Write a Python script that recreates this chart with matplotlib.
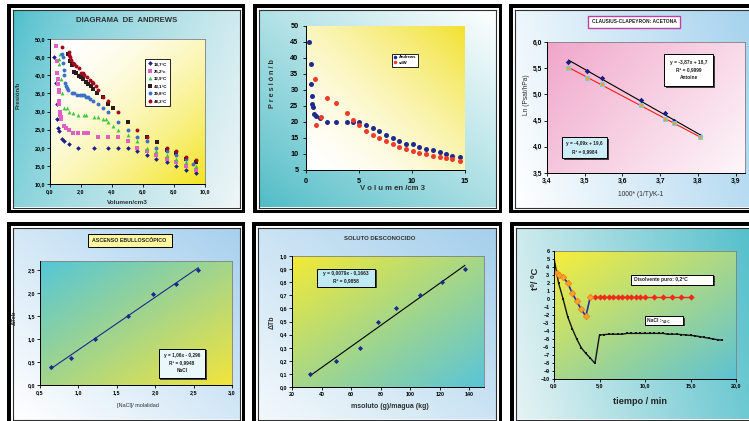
import numpy as np
import matplotlib
matplotlib.use("Agg")
import matplotlib.pyplot as plt
from matplotlib.patches import Rectangle
from matplotlib.colors import to_rgb
from matplotlib.ticker import FuncFormatter

plt.rcParams['font.family'] = ['Liberation Sans', 'DejaVu Sans']
plt.rcParams['font.weight'] = 'bold'

W, H = 749, 421

# ---- panel 1: Andrews isotherms (V/cm3, P/b)
v187 = [0.26, 0.37, 0.43, 0.47, 0.54, 0.58, 0.75, 0.92, 1.23, 1.83, 2.82, 3.76, 4.37, 5.0, 5.6, 6.26, 6.86, 7.53, 8.15, 8.8, 9.44]
p187 = [45, 38, 32, 28, 25.5, 24.5, 22.5, 22, 21, 20, 20, 20, 20, 20, 19, 18, 17, 16, 15, 14, 13]
v252 = [0.39, 0.43, 0.47, 0.54, 0.54, 0.56, 0.58, 0.6, 0.6, 0.64, 0.67, 0.71, 0.73, 0.92, 1.05, 1.23, 1.51, 1.83, 2.17, 2.47, 3.08, 3.76, 4.37, 5.0, 5.6, 6.26, 6.86, 7.53, 8.15, 8.8, 9.44]
p252 = [48, 44, 40.5, 39, 37.5, 36, 35.5, 33, 32, 30, 29, 28.5, 28, 26, 25.5, 25, 24, 24, 24, 24, 23, 23, 23, 22, 20, 19, 18, 17, 16, 15, 14]
v329 = [0.64, 0.6, 0.58, 0.69, 0.75, 0.92, 1.08, 1.23, 1.51, 1.83, 2.17, 2.32, 2.82, 3.12, 3.44, 3.61, 3.76, 4.07, 4.37, 5.0, 5.6, 6.26, 6.86, 7.53, 8.15, 8.8, 9.44]
p329 = [46, 44.5, 43, 39, 35, 31, 31, 30, 29.5, 29, 29, 29, 28.5, 28.5, 28, 28, 27, 26, 25, 23.5, 22, 20, 19, 18, 17, 16, 15]
v431 = [1.15, 1.29, 1.42, 1.55, 1.7, 1.85, 2.0, 2.15, 2.32, 2.47, 2.63, 2.8, 3.0, 3.44, 3.76, 4.07, 5.0, 6.26, 6.88, 7.53, 8.13, 8.77, 9.4]
p431 = [46, 44, 42.8, 41, 40.5, 39.8, 39.6, 38.9, 38.2, 37.7, 36.9, 36.3, 35, 34, 32, 31, 27, 23, 21.5, 19.5, 18.5, 17, 16]
v398 = [0.8, 0.86, 0.82, 0.88, 0.92, 0.97, 1.01, 1.08, 1.18, 1.4, 1.55, 1.76, 1.93, 2.04, 2.17, 2.32, 2.47, 2.58, 2.8, 3.08, 3.44, 3.76, 4.37, 5.0, 5.6, 6.26, 6.86, 7.53, 8.15, 8.8, 9.25]
p398 = [46, 45, 43.5, 41.5, 40, 38, 37, 36.5, 36, 35, 35, 34.5, 34.5, 34.5, 34.5, 34, 34, 33.5, 33, 32, 31, 30, 27, 25, 23, 22, 20, 19, 18, 17, 15.5]
v482 = [0.8, 1.2, 1.23, 1.3, 1.37, 1.47, 1.57, 1.7, 1.85, 1.98, 2.1, 2.22, 2.41, 2.58, 2.7, 2.8, 2.97, 3.12, 3.44, 3.76, 4.37, 5.63, 6.26, 7.53, 8.13, 8.77, 9.4]
p482 = [47.7, 46.5, 45.6, 45, 44.2, 43.5, 43.1, 42.6, 42, 40.7, 40.5, 40.2, 39.6, 38.7, 38.2, 37.8, 36.9, 35.9, 34.1, 33, 30, 25, 23, 20, 19, 17.5, 16.5]

# ---- panel 2: Andrews vs van der Waals
v_and = [0.3, 0.44, 0.44, 0.53, 0.6, 0.69, 0.79, 0.94, 1.32, 1.95, 2.83, 3.84, 4.47, 5.03, 5.66, 6.29, 6.9, 7.55, 8.2, 8.8, 9.4, 10.05, 10.7, 11.3, 11.95, 12.6, 13.2, 13.8, 14.5]
p_and = [45, 38, 32, 28, 25.5, 24.6, 22.5, 21.9, 21.2, 20, 20, 20, 20, 20, 19.1, 18.1, 17.1, 16, 15, 14, 13, 13, 12.1, 11.6, 11.1, 10.5, 10, 9.5, 9.2]
v_vdw = [0.88, 0.94, 1.38, 1.95, 2.83, 3.87, 4.46, 5.03, 5.66, 6.29, 6.9, 7.55, 8.2, 8.8, 9.4, 10.05, 10.7, 11.3, 11.95, 12.6, 13.2, 13.8, 14.5]
p_vdw = [33.3, 19.2, 21.6, 27.4, 26, 22.7, 20.7, 19.1, 17.3, 16.0, 15.0, 14.0, 13.0, 12.3, 11.6, 11.0, 10.4, 9.9, 9.5, 9.1, 8.8, 8.4, 7.9]

# ---- panel 3: Clausius-Clapeyron, acetone
invT = [3.457, 3.507, 3.545, 3.648, 3.713, 3.738, 3.806]
lnp_ant = [5.62, 5.45, 5.32, 4.90, 4.64, 4.49, 4.20]
lnp_exp = [5.51, 5.32, 5.19, 4.79, 4.54, 4.45, 4.18]

# ---- panel 4: ebullioscopy NaCl
m_nacl = [0.64, 0.90, 1.21, 1.65, 1.97, 2.27, 2.56]
dT_nacl = [0.39, 0.58, 1.0, 1.5, 1.99, 2.21, 2.5]

# ---- panel 5: unknown solute
m_sol = [32.3, 50, 65.8, 78.5, 90.5, 107, 121.6, 137]
dT_sol = [0.1, 0.2, 0.3, 0.5, 0.6, 0.7, 0.8, 0.9]

# ---- panel 6: cooling curves
t_nacl = [0, 0.5, 1, 1.5, 2, 2.5, 3, 3.5, 4, 4.5, 5, 5.5, 6, 6.5, 7, 7.5, 8, 8.5, 9, 9.5, 10, 10.5, 11,
          11.5, 12, 12.5, 13, 13.5, 14, 14.5, 15, 15.5, 16, 16.5, 17, 17.5, 18, 18.5]
T_nacl = [5.1, 2.0, 0.0, -2.2, -3.7, -5.0, -6.1, -6.8, -7.4, -8.05, -4.5, -4.45, -4.4, -4.4, -4.4, -4.4, -4.3, -4.3,
          -4.3, -4.3, -4.3, -4.3, -4.3, -4.3, -4.3, -4.4, -4.4, -4.4, -4.45, -4.5, -4.55, -4.6, -4.7, -4.8, -4.9, -5.0, -5.1, -5.15]
t_cool = [0.3, 0.6, 1.0, 1.5, 2.0, 2.5, 3.0, 3.5]
T_cool = [3.2, 3.0, 2.75, 2.0, 0.75, -0.3, -1.3, -2.15]
t_plat = [4, 4.5, 5, 5.5, 6, 6.5, 7, 7.5, 8, 8.5, 9, 9.5, 10, 11, 12, 13, 14, 15]
T_plat = [0.3] * 18

fig = plt.figure(figsize=(7.49, 4.21), dpi=100)


def rect(x0, y0, x1, y1):
    return [x0 / W, 1 - y1 / H, (x1 - x0) / W, (y1 - y0) / H]


def fill_grad(ax, c0, c1, dx, dy, gamma=1.0):
    u, v = np.meshgrid(np.linspace(0, 1, 80), np.linspace(0, 1, 80))
    t = u * dx + v * dy
    t = ((t - t.min()) / (t.max() - t.min())) ** gamma
    a, b = np.array(to_rgb(c0)), np.array(to_rgb(c1))
    ax.imshow(a + (b - a) * t[..., None], extent=[0, 1, 0, 1], origin='lower',
              aspect='auto', interpolation='bilinear')
    ax.set_xlim(0, 1)
    ax.set_ylim(0, 1)
    ax.set_xticks([])
    ax.set_yticks([])


canvas = fig.add_axes([0, 0, 1, 1], zorder=0)
canvas.set_xlim(0, W)
canvas.set_ylim(H, 0)
canvas.axis('off')

over = fig.add_axes([0, 0, 1, 1], zorder=20)
over.set_xlim(0, W)
over.set_ylim(H, 0)
over.axis('off')
over.patch.set_alpha(0)


def panel(x0, y0, x1, y1, c0, c1, dx, dy, gamma=1.0):
    canvas.add_patch(Rectangle((x0, y0), x1 - x0, y1 - y0, fc='black', ec='none'))
    canvas.add_patch(Rectangle((x0 + 3.5, y0 + 3.5), x1 - x0 - 7, y1 - y0 - 7, fc='white', ec='none'))
    g = fig.add_axes(rect(x0 + 5.5, y0 + 5.5, x1 - 5.5, y1 - 5.5), zorder=1)
    fill_grad(g, c0, c1, dx, dy, gamma)
    for s in g.spines.values():
        s.set_color('#303030')
        s.set_linewidth(0.8)


def plot_area(x0, y0, x1, y1, c0, c1, dx, dy, gamma=1.0, frame=True):
    g = fig.add_axes(rect(x0, y0, x1, y1), zorder=2)
    fill_grad(g, c0, c1, dx, dy, gamma)
    for s in g.spines.values():
        s.set_visible(frame)
        s.set_color('#808080')
        s.set_linewidth(0.6)
    ax = fig.add_axes(rect(x0, y0, x1, y1), zorder=3)
    ax.patch.set_alpha(0)
    for s in ax.spines.values():
        s.set_visible(False)
    ax.spines['left'].set_visible(True)
    ax.spines['bottom'].set_visible(True)
    ax.spines['left'].set_linewidth(0.7)
    ax.spines['bottom'].set_linewidth(0.7)
    ax.tick_params(length=2, width=0.6, pad=1.5)
    return ax


def comma(fmt):
    return FuncFormatter(lambda v, p: (fmt % v).replace('.', ','))


def tbox(x0, y0, x1, y1, fc='white', shadow=True):
    if shadow:
        over.add_patch(Rectangle((x0 + 1.5, y0 + 1.5), x1 - x0, y1 - y0, fc='#404040', ec='none'))
    over.add_patch(Rectangle((x0, y0), x1 - x0, y1 - y0, fc=fc, ec='black', lw=0.7))


# frames
panel(7, 4, 245, 213, '#48bdca', '#eef5f7', 1, -0.35, 0.7)
panel(253, 4, 502, 213, '#4fbcc6', '#ffffff', 1, 1.1, 0.9)
panel(509, 4, 760, 213, '#ffffff', '#a4d2ee', 1, 0.25)
panel(7, 222, 245, 425, '#ffffff', '#a7d0ee', 1, 1)
panel(252, 222, 502, 425, '#f2f8fb', '#a4cfec', 1, 1)
panel(510, 222, 760, 425, '#e6f3f4', '#52bfca', 1, 0.2)

# ---- panel 1
ax1 = plot_area(50, 39, 205, 184, '#ffffff', '#f3e420', 1, -1, 1.8)
ms = 2.8
ax1.plot(v187, p187, 'D', color='#1f1f8a', ms=ms - 0.4, mew=0, label='18,7°C')
ax1.plot(v252, p252, 's', color='#e060c0', ms=ms - 0.4, mew=0, label='25,2°c')
ax1.plot(v329, p329, '^', color='#3ec83e', ms=ms, mew=0, label='32,9°C')
ax1.plot(v431, p431, 's', color='#2e1a1a', ms=ms - 0.4, mew=0, label='43,1°C')
ax1.plot(v398, p398, 'o', color='#3c70c8', ms=ms, mew=0, label='39,8°C')
ax1.plot(v482, p482, 'o', color='#a00a1e', ms=ms, mew=0, label='48,2°C')
ax1.set_xlim(0, 10)
ax1.set_ylim(10, 50)
ax1.set_xticks(np.arange(0, 11, 2))
ax1.set_yticks(np.arange(10, 51, 5))
ax1.xaxis.set_major_formatter(comma('%.1f'))
ax1.yaxis.set_major_formatter(comma('%.1f'))
ax1.tick_params(labelsize=3.9)
lg = ax1.legend(loc='upper left', bbox_to_anchor=(143 / W, 1 - 57 / H), bbox_transform=fig.transFigure,
                fontsize=3.2, frameon=True, fancybox=False, edgecolor='black', framealpha=1,
                labelspacing=0.75, handlelength=0.8, handletextpad=0.5, borderpad=0.6, markerscale=1.0)
lg.get_frame().set_linewidth(0.6)
over.text(127, 20.5, 'DIAGRAMA  DE  ANDREWS', ha='center', va='center', fontsize=5.6, color='#303030')
over.text(18, 95, 'Presión/b', rotation=90, ha='center', va='center', fontsize=4.3, color='#303030')
over.text(127, 203, 'Volumen/cm3', ha='center', va='center', fontsize=4.6, color='#303030')

# ---- panel 2
ax2 = plot_area(306, 26, 465, 170, '#ffffff', '#f2e232', 1, 1, 1.6, frame=False)
ax2.plot(v_and, p_and, 'o', color='#1f2a8c', ms=3.6, mew=0, label='Andrews')
ax2.plot(v_vdw, p_vdw, 'o', color='#f03a2a', ms=3.6, mew=0, label='vdW')
ax2.set_xlim(0, 15)
ax2.set_ylim(5, 50)
ax2.set_xticks([0, 5, 10, 15])
ax2.set_yticks(np.arange(5, 51, 5))
ax2.tick_params(labelsize=5.2, pad=3, length=2.5)
lg2 = ax2.legend(loc='upper left', bbox_to_anchor=(390 / W, 1 - 51.5 / H), bbox_transform=fig.transFigure,
                 fontsize=3.0, frameon=True, fancybox=False, edgecolor='black', framealpha=1,
                 labelspacing=0.4, handlelength=0.6, handletextpad=0.6, borderpad=0.4, markerscale=0.7)
lg2.get_frame().set_linewidth(0.6)
over.text(273, 84, 'P r e s i ó n / b', rotation=90, ha='center', va='center', fontsize=5.2, color='#303030')
over.text(393, 188, 'V o l u m en /cm 3', ha='center', va='center', fontsize=5.6, color='#303030')

# ---- panel 3
ax3 = plot_area(547, 42, 745, 173, '#f0a4c9', '#fdf6f9', 1, -0.6, 0.9)
k1 = np.polyfit(invT, lnp_ant, 1)
k2 = np.polyfit(invT, lnp_exp, 1)
xx = np.array([min(invT), max(invT)])
ax3.plot(xx, np.polyval(k1, xx), color='black', lw=0.8)
ax3.plot(xx, np.polyval(k2, xx), color='#f02010', lw=0.8)
ax3.plot(invT, lnp_ant, 'D', color='#1c1c80', ms=2.8, mew=0)
ax3.plot(invT, lnp_exp, 's', color='#f5a030', mec='#60d8f0', mew=0.6, ms=3.2)
ax3.set_xlim(3.4, 3.925)
ax3.set_ylim(3.5, 6.0)
ax3.set_xticks(np.arange(3.4, 3.95, 0.1))
ax3.set_yticks(np.arange(3.5, 6.01, 0.5))
ax3.xaxis.set_major_formatter(comma('%.1f'))
ax3.yaxis.set_major_formatter(comma('%.1f'))
ax3.tick_params(labelsize=4.9)
over.add_patch(Rectangle((588, 16), 92, 11.5, fc='white', ec='#c040a0', lw=1.0))
over.text(634, 21.8, 'CLAUSIUS-CLAPEYRON: ACETONA', ha='center', va='center', fontsize=3.5, color='#202020')
tbox(664, 54, 713, 86)
over.text(688.5, 70, 'y = -3,87x + 18,7\nR² = 0,9999\nAntoine', ha='center', va='center',
          fontsize=3.5, linespacing=1.6, color='#202020')
tbox(562, 137, 607, 158, fc='#cdeef8')
over.text(584.5, 147.5, 'y = -4,09x + 19,6\nR² = 0,9984', ha='center', va='center',
          fontsize=3.4, linespacing=1.6, color='#202020')
over.text(526, 95, 'Ln (Psat/hPa)', rotation=90, ha='center', va='center', fontsize=4.8,
          color='#303030', fontweight='normal')
over.text(641, 195, '1000* (1/T)/K-1', ha='center', va='center', fontsize=4.8, color='#303030',
          fontweight='normal')

# ---- panel 4
ax4 = plot_area(40, 261, 232, 385, '#55c6d8', '#f3e43c', 1, -1, 1.0)
k4 = np.polyfit(m_nacl, dT_nacl, 1)
xx = np.array([min(m_nacl), max(m_nacl)])
ax4.plot(xx, np.polyval(k4, xx), color='#1c2a8a', lw=0.8)
ax4.plot(m_nacl, dT_nacl, 'D', color='#1c2a8a', ms=2.6, mew=0)
ax4.set_xlim(0.5, 3.0)
ax4.set_ylim(0, 2.7)
ax4.set_xticks(np.arange(0.5, 3.01, 0.5))
ax4.set_yticks(np.arange(0, 2.51, 0.5))
ax4.xaxis.set_major_formatter(comma('%.1f'))
ax4.yaxis.set_major_formatter(comma('%.1f'))
ax4.tick_params(labelsize=3.9)
tbox(87.5, 233.5, 171.5, 246.5, fc='#fff7a0')
over.text(129.5, 240, 'ASCENSO EBULLOSCÓPICO', ha='center', va='center', fontsize=3.8, color='#202020')
tbox(158.5, 348.5, 205, 378, fc='#eaf7fb')
over.text(181.8, 363, 'y = 1,06x - 0,296\nR² = 0,9948\nNaCl', ha='center', va='center',
          fontsize=3.4, linespacing=1.6, color='#202020')
over.text(14, 318, 'ΔTeb', rotation=90, ha='center', va='center', fontsize=4.3, color='#303030')
over.text(138, 405, '[NaCl]/ molalidad', ha='center', va='center', fontsize=4.0, color='#303030',
          fontweight='normal')

# ---- panel 5
ax5 = plot_area(292, 256, 484, 387, '#f3ea36', '#5ac4d8', 1, -1, 1.0)
k5 = np.polyfit(m_sol, dT_sol, 1)
xx = np.array([min(m_sol), max(m_sol)])
ax5.plot(xx, np.polyval(k5, xx), color='black', lw=0.8)
ax5.plot(m_sol, dT_sol, 'D', color='#1c2a8a', ms=2.6, mew=0)
ax5.set_xlim(20, 150)
ax5.set_ylim(0, 1.0)
ax5.set_xticks(np.arange(20, 141, 20))
ax5.set_yticks(np.arange(0, 1.01, 0.1))
ax5.yaxis.set_major_formatter(comma('%.1f'))
ax5.tick_params(labelsize=3.9)
over.text(380, 238.5, 'SOLUTO DESCONOCIDO', ha='center', va='center', fontsize=4.3, color='#303030')
tbox(317, 268.5, 375, 286.5, fc='#bfeaf4')
over.text(346, 277.5, 'y = 0,0079x - 0,1663\nR² = 0,9858', ha='center', va='center',
          fontsize=3.5, linespacing=1.5, color='#202020')
over.text(272, 322, 'ΔTb', rotation=90, ha='center', va='center', fontsize=5, color='#303030')
over.text(390, 406, 'msoluto (g)/magua (kg)', ha='center', va='center', fontsize=5.0, color='#303030')

# ---- panel 6
ax6 = plot_area(554, 251, 736, 379, '#f6ee3c', '#5ec2d4', 1, -1, 1.0)
ax6.plot(t_nacl, T_nacl, '-s', color='#151515', lw=1.0, ms=2.0, mew=0)
ax6.plot(t_cool + t_plat[:1], T_cool + T_plat[:1], '-', color='#2030a0', lw=1.2)
ax6.plot(t_plat, T_plat, '-D', color='#f02a18', lw=1.0, ms=3.2, mew=0)
ax6.plot(t_cool, T_cool, 'D', color='#f5a030', mec='#f07010', mew=0.4, ms=3.4)
ax6.plot(t_plat[:1], T_plat[:1], 'D', color='#f5a030', mec='#f07010', mew=0.4, ms=3.4)
ax6.set_xlim(0, 20)
ax6.set_ylim(-10, 6)
ax6.set_xticks([0, 5, 10, 15, 20])
ax6.set_yticks(np.arange(-10, 7, 1))
ax6.xaxis.set_major_formatter(comma('%.1f'))
ax6.tick_params(labelsize=3.9, length=1.8)
tbox(631, 274.5, 713, 284.5)
over.text(634, 279.5, 'Disolvente puro: 0,2ºC', ha='left', va='center', fontsize=3.6, color='#202020')
tbox(644.5, 316, 683, 324.5)
over.text(647, 320.3, 'NaCl :- ', ha='left', va='center', fontsize=3.6, color='#202020')
over.text(663, 321.5, '4,2ºC', ha='left', va='center', fontsize=2.2, color='#202020')
over.text(536, 279, 'tº/ ºC', rotation=90, ha='center', va='center', fontsize=6.8, color='#252525')
over.text(640, 401, 'tiempo / min', ha='center', va='center', fontsize=6.6, color='#252525')

fig.savefig('out.png', dpi=100)
